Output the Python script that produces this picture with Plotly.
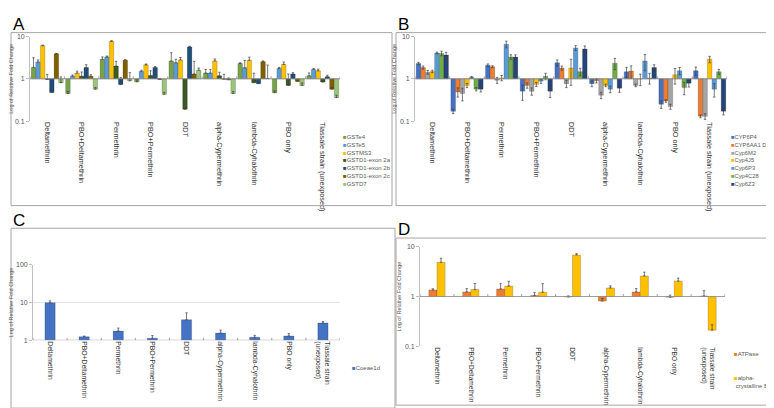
import plotly.graph_objects as go

# categories (same order in all four panels)
categories = ["Deltamethrin", "PBO+Deltamethrin", "Permethrin", "PBO+Permethrin", "DDT",
              "alpha-Cypermethrin", "lambda-Cyhalothrin", "PBO only", "Tiassale strain (unexposed)"]
labels_two_line = categories[:-1] + ["Tiassale strain<br>(unexposed)"]

# Panel A - GST genes (relative fold change, plus error)
gste4 = [1.86, 0.45, 2.9, 0.85, 2.65, 1.37, 2.3, 0.47, 1.18]
gste5 = [2.5, 1.15, 3.3, 1.5, 2.4, 1.37, 1.83, 1.76, 1.67]
gstms3 = [6.1, 1.37, 7.7, 2.14, 2.8, 2.65, 2.75, 2.2, 1.55]
gstd1_2a = [0.97, 1.15, 2.0, 1.2, 0.19, 1.18, 0.81, 0.7, 0.84]
gstd1_2b = [0.475, 1.86, 0.73, 1.86, 5.7, 0.98, 0.77, 1.3, 1.12]
gstd1_2c = [3.9, 1.15, 2.75, 0.97, 1.3, 0.95, 2.55, 0.87, 0.57]
gstd7 = [0.81, 0.57, 0.9, 0.43, 1.6, 0.45, 1.02, 0.7, 0.36]
gste4_err = [1.3, 0.05, 0.4, 0.1, 1.5, 0.3, 0.1, 0.05, 0.2]
gste5_err = [0.3, 0.08, 0.15, 0.1, 0.5, 0.3, 0.9, 0.1, 0.1]
gstms3_err = [0.2, 0.15, 0.3, 0.1, 0.4, 0.3, 0.5, 0.3, 0.15]
gstd1_2a_err = [0.3, 0.3, 0.6, 0.35, 0.02, 0.25, 0.55, 0.6, 0.08]
gstd1_2b_err = [0.05, 0.3, 0.35, 0.1, 0.2, 0.3, 0.05, 0.1, 0.1]
gstd1_2c_err = [0.1, 0.1, 0.1, 0.05, 1.3, 0.1, 0.1, 0.05, 0.05]
gstd7_err = [0.3, 0.05, 0.5, 0.05, 0.2, 0.05, 1.1, 0.1, 0.05]

# Panel B - CYP genes (symmetric error)
cyp6p4 = [2.3, 0.17, 2.1, 0.51, 2.4, 0.77, 1.47, 0.25, 1.55]
cyp6aa1 = [1.85, 0.49, 1.93, 0.7, 1.8, 0.9, 1.53, 0.3, 0.13]
cyp6m2 = [1.43, 0.45, 0.93, 0.51, 0.77, 0.41, 0.7, 0.22, 0.13]
cyp4j5 = [1.5, 0.7, 1.05, 0.74, 1.8, 0.7, 0.99, 1.25, 2.9]
cyp6p3 = [4.1, 1.09, 6.6, 0.88, 5.4, 0.57, 2.65, 1.55, 0.57]
cyp4c28 = [4.0, 0.57, 3.3, 1.15, 1.48, 2.35, 1.05, 0.62, 1.47]
cyp6z3 = [3.65, 0.57, 3.3, 0.51, 5.1, 0.6, 1.85, 0.79, 0.17]
cyp6p4_err = [0.15, 0.02, 0.15, 0.2, 0.4, 0.12, 0.4, 0.05, 0.35]
cyp6aa1_err = [0.15, 0.12, 0.1, 0.1, 0.2, 0.1, 0.5, 0.02, 0.01]
cyp6m2_err = [0.15, 0.15, 0.15, 0.1, 0.15, 0.07, 0.05, 0.03, 0.02]
cyp4j5_err = [0.1, 0.08, 0.15, 0.08, 1.1, 0.05, 0.3, 0.5, 0.5]
cyp6p3_err = [0.2, 0.05, 1.2, 0.1, 0.7, 0.1, 1.1, 0.3, 0.2]
cyp4c28_err = [0.5, 0.05, 0.4, 0.2, 0.3, 0.7, 0.3, 0.2, 0.2]
cyp6z3_err = [0.6, 0.08, 0.4, 0.15, 0.9, 0.12, 0.3, 0.15, 0.03]

# Panel C - Coeae1d
coeae1d = [9.8, 1.24, 1.75, 1.13, 3.5, 1.55, 1.2, 1.3, 2.87]
coeae1d_err = [1.2, 0.05, 0.35, 0.2, 1.8, 0.3, 0.15, 0.2, 0.25]

# Panel D - ATPase / alpha-crystalline B
atpase = [1.36, 1.24, 1.42, 1.05, 0.98, 0.81, 1.24, 0.97, 1.03]
atpase_err = [0.07, 0.2, 0.4, 0.15, 0.05, 0.1, 0.2, 0.1, 0.28]
crystalline = [4.9, 1.38, 1.63, 1.22, 6.9, 1.49, 2.6, 2.05, 0.21]
crystalline_err = [1.0, 0.45, 0.4, 0.6, 0.4, 0.15, 0.5, 0.3, 0.06]

FONT = "Liberation Sans, Arial, sans-serif"
TXT = "#595959"
W, H = 774, 408

panel_a = [("GSTe4", gste4, gste4_err, "#77a24a"),
           ("GSTe5", gste5, gste5_err, "#5b9bd5"),
           ("GSTMS3", gstms3, gstms3_err, "#ffc000"),
           ("GSTD1-exon 2a", gstd1_2a, gstd1_2a_err, "#3b5a26"),
           ("GSTD1-exon 2b", gstd1_2b, gstd1_2b_err, "#1f4e79"),
           ("GSTD1-exon 2c", gstd1_2c, gstd1_2c_err, "#7f6000"),
           ("GSTD7", gstd7, gstd7_err, "#9cc47c")]
panel_b = [("CYP6P4", cyp6p4, cyp6p4_err, "#4472c4"),
           ("CYP6AA1 Dup", cyp6aa1, cyp6aa1_err, "#ed7d31"),
           ("Cyp6M2", cyp6m2, cyp6m2_err, "#a5a5a5"),
           ("Cyp4J5", cyp4j5, cyp4j5_err, "#ffc000"),
           ("Cyp6P3", cyp6p3, cyp6p3_err, "#5b9bd5"),
           ("Cyp4C28", cyp4c28, cyp4c28_err, "#70ad47"),
           ("Cyp6Z3", cyp6z3, cyp6z3_err, "#264478")]

fig = go.Figure()


def add_bar(name, vals, err, color, xa, ya, symmetric=False, width=None, offset=None):
    # bars start at fold change 1 (log axis), so size = value - 1
    fig.add_trace(go.Bar(
        x=categories, y=[v - 1 for v in vals], base=1, name=name,
        xaxis=xa, yaxis=ya, showlegend=False, width=width, offset=offset,
        marker=dict(color=color, line=dict(color="rgba(0,0,0,0.35)", width=0.5)),
        error_y=dict(type="data", array=err, symmetric=symmetric,
                     arrayminus=None if symmetric else [0] * len(err),
                     color="#404040", thickness=0.7, width=1.2),
    ))


for name, vals, err, color in panel_a:
    add_bar(name, vals, err, color, "x", "y")
for name, vals, err, color in panel_b:
    add_bar(name, vals, err, color, "x2", "y2", symmetric=True)
add_bar("Coeae1d", coeae1d, coeae1d_err, "#4472c4", "x3", "y3", width=0.3)
add_bar("ATPase", atpase, atpase_err, "#ed7d31", "x4", "y4", width=0.24, offset=-0.24)
add_bar("alpha-crystalline B", crystalline, crystalline_err, "#ffc000", "x4", "y4", width=0.24, offset=0)

# panel geometry in pixels: plot area x/y, log y range, frame box, letter position
panels = {
    "": dict(px=(22, 332), py=(25, 111), yr=[-1, 1], frame=(3, 384, 21, 197), letter="A", lx=3, fs=7.3),
    "2": dict(px=(407, 719), py=(25, 111), yr=[-1, 1], frame=(388, 772, 21, 197), letter="B", lx=388, fs=7.3),
    "3": dict(px=(25, 332), py=(257, 334), yr=[0, 2], frame=(3, 387, 220, 403), letter="C", lx=3, fs=6.8),
    "4": dict(px=(412, 717), py=(239, 340), yr=[-1, 1], frame=(388, 765, 230, 400), letter="D", lx=388, fs=6.6),
}

layout = dict(width=W, height=H, margin=dict(l=0, r=0, t=0, b=0),
              paper_bgcolor="white", plot_bgcolor="white",
              barmode="group", bargap=0.07, bargroupgap=0,
              font=dict(family=FONT, color=TXT, size=7))
shapes = []
annotations = []

for key, p in panels.items():
    ticks = [0.1, 1, 10] if p["yr"][0] == -1 else [1, 10, 100]
    layout["xaxis" + key] = dict(
        domain=[p["px"][0] / W, p["px"][1] / W], anchor="y" + key,
        range=[-0.5, 8.5], tickangle=90, showline=False, showgrid=False, ticks="",
        tickfont=dict(size=p["fs"], color="#333333"), tickvals=categories,
        ticktext=categories if key in ("", "2") else labels_two_line,
    )
    layout["yaxis" + key] = dict(
        domain=[1 - p["py"][1] / H, 1 - p["py"][0] / H], anchor="x" + key,
        type="log", range=p["yr"], tickvals=ticks, ticktext=[str(t) for t in ticks],
        showgrid=True, gridcolor="#e3e3e3", gridwidth=0.8, zeroline=False,
        showline=True, linecolor="#bfbfbf", linewidth=0.8,
        ticks="outside", ticklen=3, tickcolor="#bfbfbf", tickfont=dict(size=7, color=TXT),
        title=dict(text="Log of Relative Fold Change", font=dict(size=5.5, color=TXT), standoff=3),
    )
    # category axis crossing at fold change 1
    shapes.append(dict(type="line", xref="x" + key + " domain", yref="y" + key,
                       x0=0, x1=1, y0=1, y1=1, line=dict(color="#8c8c8c", width=0.8)))
    for i in range(len(categories) + 1):
        shapes.append(dict(type="line", xref="x" + key, yref="y" + key, ysizemode="pixel",
                           yanchor=1, x0=i - 0.5, x1=i - 0.5, y0=-2.5, y1=2.5,
                           line=dict(color="#8c8c8c", width=0.8)))
    f = p["frame"]
    shapes.append(dict(type="rect", xref="paper", yref="paper",
                       x0=f[0] / W, x1=f[1] / W, y0=1 - f[3] / H, y1=1 - f[2] / H,
                       line=dict(color="#a6a6a6", width=1)))
    annotations.append(dict(text=p["letter"], xref="paper", yref="paper",
                            x=p["lx"] / W, y=1 - (f[2] - 20) / H, xanchor="left", yanchor="top",
                            showarrow=False, font=dict(size=17, color="black", family=FONT)))


def legend_items(items, x_px, y_px, step=8, size=6):
    for k, (name, color) in enumerate(items):
        annotations.append(dict(
            text='<span style="color:%s">■</span><span style="color:%s">%s</span>' % (color, TXT, name),
            xref="paper", yref="paper", x=x_px / W, y=1 - (y_px + k * step) / H,
            xanchor="left", yanchor="middle", align="left", showarrow=False,
            font=dict(size=size, color=TXT, family=FONT)))


legend_items([(n, c) for n, _, _, c in panel_a], 333, 127)
legend_items([(n, c) for n, _, _, c in panel_b], 721, 127, size=5.8)
legend_items([("Coeae1d", "#4472c4")], 342, 362)
legend_items([("ATPase", "#ed7d31"), ("alpha-<br>&nbsp;crystalline B", "#ffc000")], 724, 348, step=28)

layout["shapes"] = shapes
layout["annotations"] = annotations
fig.update_layout(**layout)

fig.write_html("out.html")
